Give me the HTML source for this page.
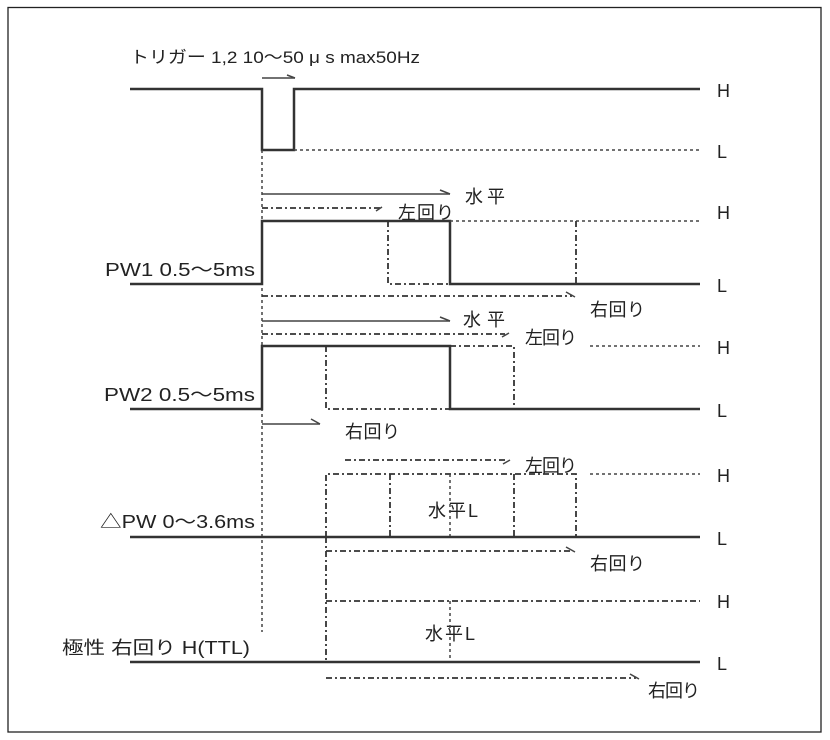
<!DOCTYPE html>
<html><head><meta charset="utf-8"><style>
html,body{margin:0;padding:0;background:#fff;}
svg{display:block;}
text{font-family:"Liberation Sans","Noto Sans CJK JP",sans-serif;fill:#222;}
.s{stroke:#333;stroke-width:2.5;fill:none;}
.d{stroke:#444;stroke-width:1.5;fill:none;stroke-dasharray:3 3;}
.dd{stroke:#333;stroke-width:1.8;fill:none;stroke-dasharray:6 3 2 3;}
.a{stroke:#444;stroke-width:1.5;fill:none;}
</style></head><body>
<svg width="830" height="740" viewBox="0 0 830 740" xmlns="http://www.w3.org/2000/svg">
<rect x="8" y="7.5" width="813" height="724.5" fill="none" stroke="#222" stroke-width="1.3"/>
<g font-size="18">
<text x="130" y="63" font-size="17" textLength="290" lengthAdjust="spacingAndGlyphs">トリガー 1,2 10～50 μ s max50Hz</text>
<text x="717" y="97">H</text><text x="717" y="158">L</text>
<text x="717" y="219">H</text><text x="717" y="292">L</text>
<text x="717" y="354">H</text><text x="717" y="417">L</text>
<text x="717" y="482">H</text><text x="717" y="545">L</text>
<text x="717" y="608">H</text><text x="717" y="670">L</text>
<text x="105" y="276" textLength="150" lengthAdjust="spacingAndGlyphs">PW1 0.5～5ms</text>
<text x="104" y="401" textLength="151" lengthAdjust="spacingAndGlyphs">PW2 0.5～5ms</text>
<text x="100" y="528" textLength="155" lengthAdjust="spacingAndGlyphs">△PW 0～3.6ms</text>
<text x="62" y="654" textLength="188" lengthAdjust="spacingAndGlyphs">極性  右回り H(TTL)</text>
<text x="465" y="203" textLength="40">水平</text>
<text x="398" y="219" textLength="56">左回り</text>
<text x="590" y="316" textLength="55">右回り</text>
<text x="463" y="326" textLength="42">水平</text>
<text x="525" y="344" textLength="52">左回り</text>
<text x="345" y="438" textLength="55">右回り</text>
<text x="525" y="472" textLength="52">左回り</text>
<text x="428" y="517" textLength="50">水平L</text>
<text x="590" y="570" textLength="55">右回り</text>
<text x="425" y="640" textLength="50">水平L</text>
<text x="648" y="697" textLength="52">右回り</text>
</g>
<!-- trigger -->
<polyline class="s" points="130,89 262,89 262,150 294,150 294,89 700,89"/>
<line class="d" x1="294" y1="150" x2="700" y2="150"/>
<line class="a" x1="262" y1="78" x2="295" y2="78"/><line class="a" x1="287" y1="75" x2="295" y2="78"/>
<line class="d" x1="262" y1="150" x2="262" y2="632"/>
<!-- PW1 -->
<line class="a" x1="262" y1="194" x2="450" y2="194"/><line class="a" x1="440" y1="190" x2="450" y2="194"/>
<line class="dd" x1="262" y1="208" x2="380" y2="208"/><line class="a" x1="376" y1="211" x2="382" y2="207"/>
<polyline class="s" points="130,284 262,284 262,221 450,221 450,284 700,284"/>
<polyline class="dd" points="388,221 388,284 450,284"/>
<line class="d" x1="450" y1="221" x2="700" y2="221"/>
<line class="dd" x1="576" y1="221" x2="576" y2="284"/>
<line class="dd" x1="262" y1="296" x2="572" y2="296"/><line class="a" x1="566" y1="292" x2="575" y2="297"/>
<!-- PW2 -->
<line class="a" x1="262" y1="321" x2="450" y2="321"/><line class="a" x1="440" y1="317" x2="450" y2="321"/>
<line class="dd" x1="262" y1="334" x2="505" y2="334"/><line class="a" x1="502" y1="337" x2="509" y2="333"/>
<polyline class="s" points="130,409 262,409 262,346 450,346 450,409 700,409"/>
<polyline class="dd" points="326,346 326,409 450,409"/>
<polyline class="dd" points="450,346 514,346 514,409"/>
<line class="d" x1="590" y1="346" x2="700" y2="346"/>
<line class="a" x1="262" y1="424" x2="320" y2="424"/><line class="a" x1="311" y1="419" x2="320" y2="424"/>
<!-- dPW -->
<line class="dd" x1="345" y1="460" x2="507" y2="460"/><line class="a" x1="503" y1="464" x2="510" y2="460"/>
<polyline class="dd" points="326,537 326,474 576,474 576,537"/>
<line class="dd" x1="390" y1="474" x2="390" y2="537"/>
<line class="d" x1="450" y1="474" x2="450" y2="537"/>
<line class="dd" x1="514" y1="474" x2="514" y2="537"/>
<line class="d" x1="590" y1="474" x2="700" y2="474"/>
<line class="s" x1="130" y1="537" x2="700" y2="537"/>
<line class="dd" x1="326" y1="551" x2="572" y2="551"/><line class="a" x1="566" y1="547" x2="575" y2="552"/>
<!-- polarity -->
<line class="dd" x1="326" y1="537" x2="326" y2="662"/>
<line class="dd" x1="326" y1="601" x2="700" y2="601"/>
<line class="d" x1="450" y1="601" x2="450" y2="662"/>
<line class="s" x1="130" y1="662" x2="700" y2="662"/>
<line class="dd" x1="326" y1="678" x2="636" y2="678"/><line class="a" x1="630" y1="674" x2="639" y2="679"/>
</svg>
</body></html>
